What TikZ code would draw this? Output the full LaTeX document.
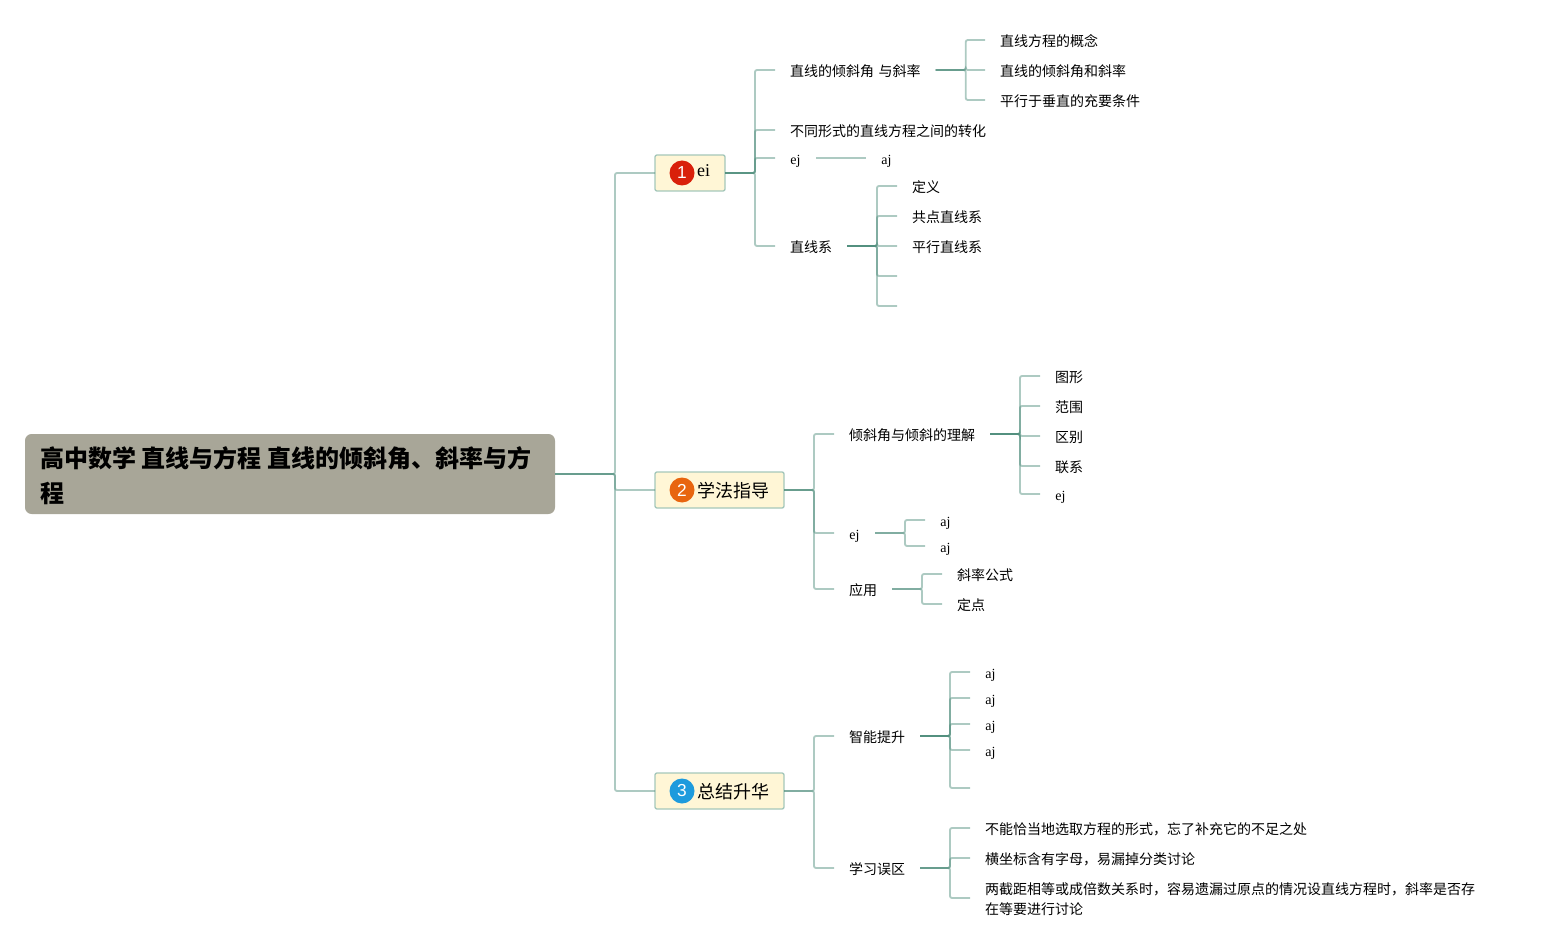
\documentclass[tikz,border=0pt]{standalone}
\usepackage{fontspec}
\setmainfont{Liberation Serif}
\setsansfont{Liberation Sans}
\newfontfamily\cjk{Noto Sans CJK SC}
\definecolor{linkcol}{HTML}{4A8A78}
\definecolor{boxfill}{HTML}{FFF6D6}
\definecolor{boxline}{HTML}{A5C7BA}
\definecolor{rootfill}{HTML}{A8A698}
\definecolor{badgeA}{HTML}{D9200A}
\definecolor{badgeB}{HTML}{E8650F}
\definecolor{badgeC}{HTML}{1E9BDD}
\tikzset{
  x=0.75pt,y=-0.75pt,outer sep=0pt,
  link/.style={draw=linkcol,opacity=0.45,line width=1.4pt,rounded corners=1.5pt},
  leaf/.style={anchor=west,inner xsep=11.25pt,inner ysep=0pt,text height=11pt,text depth=0.75pt,text=black,
    font={\cjk\fontsize{10.5}{15}\selectfont}},
  enleaf/.style={anchor=west,inner xsep=11.25pt,inner ysep=0pt,text height=10.5pt,text depth=1pt,text=black,minimum width=30.75pt,
    font={\rmfamily\fontsize{10.5}{15}\selectfont}},
  mainbox/.style={draw=boxline,fill=boxfill,line width=1pt,rounded corners=1.5pt,minimum height=27pt,inner sep=0pt,anchor=west},
  badge/.style={circle,minimum size=18.75pt,inner sep=0pt,text=white,font={\sffamily\fontsize{13}{15}\selectfont}},
  mainzh/.style={anchor=west,inner sep=0pt,font={\cjk\fontsize{13.5}{15}\selectfont}},
  mainen/.style={anchor=west,inner sep=0pt,font={\rmfamily\fontsize{13.5}{15}\selectfont}},
  rootbox/.style={anchor=west,fill=rootfill,rounded corners=5pt,minimum height=60pt,minimum width=397.5pt,inner sep=0pt},
  roottext/.style={anchor=west,text width=385pt,inner sep=0pt,align=left,
    font={\cjk\bfseries\fontsize{18}{26.25}\selectfont}},
}
\begin{document}
\begin{tikzpicture}
\useasboundingbox (0,0) rectangle (1545,948);
% root
\node[rootbox] (root) at (25,474) {};
\node[roottext] (title) at (40,476) {高中数学\kern-1.5pt{} 直线与方程\kern-1.5pt{} 直线的倾斜角、斜率与方\\程};
% main boxes
\node[mainbox,minimum width=52.5pt] (b1) at (655,173) {};
\node[mainbox,minimum width=96.75pt] (b2) at (655,490) {};
\node[mainbox,minimum width=96.75pt] (b3) at (655,791) {};
\node[badge,fill=badgeA] (i1) at (682,173) {1};
\node[badge,fill=badgeB] (i2) at (682,490) {2};
\node[badge,fill=badgeC] (i3) at (682,791) {3};
\node[mainen] (t1) at (697,171) {ei};
\node[mainzh] (t2) at (697,491) {学法指导};
\node[mainzh] (t3) at (697,792) {总结升华};
% branch 1
\node[leaf] (a1) at (775,70) {直线的倾斜角\kern1.2pt{} 与斜率};
\node[leaf] (a2) at (775,130) {不同形式的直线方程之间的转化};
\node[enleaf] (a3) at (775,158) {ej};
\node[leaf] (a4) at (775,246) {直线系};
\node[leaf] (a11) at (985,40) {直线方程的概念};
\node[leaf] (a12) at (985,70) {直线的倾斜角和斜率};
\node[leaf] (a13) at (985,100) {平行于垂直的充要条件};
\node[enleaf] (a31) at (866,158) {aj};
\node[leaf] (a41) at (897,186) {定义};
\node[leaf] (a42) at (897,216) {共点直线系};
\node[leaf] (a43) at (897,246) {平行直线系};
\coordinate (a44) at (897,276);
\coordinate (a45) at (897,306);
% branch 2
\node[leaf] (c1) at (834,434) {倾斜角与倾斜的理解};
\node[enleaf] (c2) at (834,533) {ej};
\node[leaf] (c3) at (834,589) {应用};
\node[leaf] (c11) at (1040,376) {图形};
\node[leaf] (c12) at (1040,406) {范围};
\node[leaf] (c13) at (1040,436) {区别};
\node[leaf] (c14) at (1040,466) {联系};
\node[enleaf] (c15) at (1040,494) {ej};
\node[enleaf] (c21) at (925,520) {aj};
\node[enleaf] (c22) at (925,546) {aj};
\node[leaf] (c31) at (942,574) {斜率公式};
\node[leaf] (c32) at (942,604) {定点};
% branch 3
\node[leaf] (d1) at (834,736) {智能提升};
\node[leaf] (d2) at (834,868) {学习误区};
\node[enleaf] (d11) at (970,672) {aj};
\node[enleaf] (d12) at (970,698) {aj};
\node[enleaf] (d13) at (970,724) {aj};
\node[enleaf] (d14) at (970,750) {aj};
\coordinate (d15) at (970,788);
\node[leaf] (d21) at (970,828) {不能恰当地选取方程的形式，忘了补充它的不足之处};
\node[leaf] (d22) at (970,858) {横坐标含有字母，易漏掉分类讨论};
\node[leaf,align=left,text height=,text depth=] (d23) at (970,899) {两截距相等或成倍数关系时，容易遗漏过原点的情况设直线方程时，斜率是否存\\在等要进行讨论};
% connectors
\foreach \c in {b1,b2,b3} \draw[link] (root.east) -- ++(60,0) |- (\c.west);
\foreach \c in {a1,a2,a3,a4} \draw[link] (b1.east) -- ++(30,0) |- (\c.west);
\foreach \c in {c1,c2,c3} \draw[link] (b2.east) -- ++(30,0) |- (\c.west);
\foreach \c in {d1,d2} \draw[link] (b3.east) -- ++(30,0) |- (\c.west);
\foreach \c in {a11,a12,a13} \draw[link] (a1.east) -- ++(30,0) |- (\c.west);
\draw[link] (a3.east) -- (a31.west);
\foreach \c in {a41,a42,a43,a44,a45} \draw[link] (a4.east) -- ++(30,0) |- (\c);
\foreach \c in {c11,c12,c13,c14,c15} \draw[link] (c1.east) -- ++(30,0) |- (\c.west);
\foreach \c in {c21,c22} \draw[link] (c2.east) -- ++(30,0) |- (\c.west);
\foreach \c in {c31,c32} \draw[link] (c3.east) -- ++(30,0) |- (\c.west);
\foreach \c in {d11,d12,d13,d14,d15} \draw[link] (d1.east) -- ++(30,0) |- (\c);
\foreach \c in {d21,d22} \draw[link] (d2.east) -- ++(30,0) |- (\c.west);
\draw[link] (d2.east) -- ++(30,0) |- ([yshift=0.75pt]d23.west);
\end{tikzpicture}
\end{document}
